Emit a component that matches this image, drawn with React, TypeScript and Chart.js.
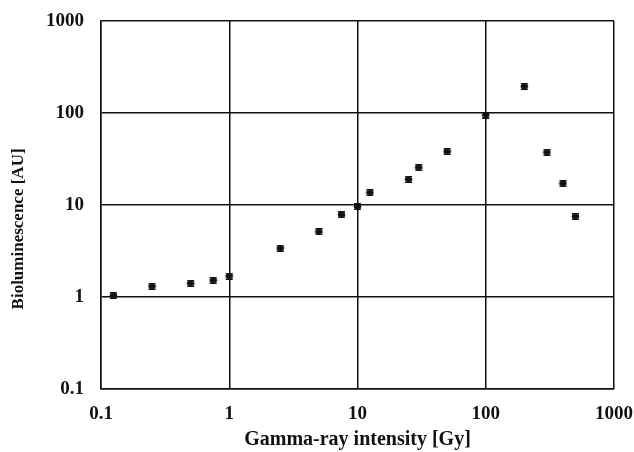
import React, { useEffect, useRef } from "react";
import Chart from "chart.js/auto";

const X_DOSES = [0.125, 0.25, 0.5, 0.75, 1, 2.5, 5, 7.5, 10, 12.5, 25, 30, 50, 100, 200, 300, 400, 500];
const Y_BIOLUM = [1.04, 1.31, 1.4, 1.51, 1.69, 3.4, 5.1, 7.8, 9.6, 13.6, 19, 25.5, 38, 95, 195, 37.4, 17.1, 7.5];
const X_TICKS = [0.1, 1, 10, 100, 1000];
const Y_TICKS = [0.1, 1, 10, 100, 1000];
const X_TITLE = "Gamma-ray intensity [Gy]";
const Y_TITLE = "Bioluminescence [AU]";

const FONT = "'Liberation Serif', 'Times New Roman', serif";
const INK = "#111";

function makeMarker(): HTMLCanvasElement {
  const c = document.createElement("canvas");
  c.width = 9;
  c.height = 7;
  const g = c.getContext("2d")!;
  g.fillStyle = INK;
  g.fillRect(1, 0, 7, 1.5);
  g.fillRect(1, 5.5, 7, 1.5);
  g.beginPath();
  g.ellipse(4.5, 3.5, 3.8, 2.4, 0, 0, Math.PI * 2);
  g.fill();
  return c;
}

const yTitlePlugin = {
  id: "yTitle",
  afterDraw(chart: any) {
    const { ctx, chartArea } = chart;
    ctx.save();
    ctx.fillStyle = INK;
    ctx.font = `bold 17px ${FONT}`;
    ctx.textAlign = "center";
    ctx.textBaseline = "middle";
    ctx.translate(19, chartArea.top + (chartArea.bottom - chartArea.top) * 0.565);
    ctx.rotate(-Math.PI / 2);
    ctx.fillText(Y_TITLE, 0, 0);
    ctx.restore();
  },
};

export default function App() {
  const ref = useRef<HTMLCanvasElement>(null);
  useEffect(() => {
    document.body.style.margin = "0";
    const marker = makeMarker();
    const data = X_DOSES.map((x, i) => ({ x, y: Y_BIOLUM[i] }));
    const chart = new Chart(ref.current!, {
      type: "scatter",
      data: {
        datasets: [
          {
            data,
            pointStyle: marker as any,
            pointRadius: 4,
            pointHoverRadius: 4,
            backgroundColor: INK,
            borderColor: INK,
          },
        ],
      },
      options: {
        animation: false,
        responsive: false,
        events: [],
        layout: { padding: { top: 21, right: 20, left: 0, bottom: 0 } },
        plugins: { legend: { display: false }, tooltip: { enabled: false } },
        scales: {
          x: {
            type: "logarithmic",
            min: 0.1,
            max: 1000,
            afterBuildTicks: (s: any) => {
              s.ticks = X_TICKS.map((v) => ({ value: v }));
            },
            afterFit: (s: any) => {
              s.height = 63;
              s.paddingLeft = 0;
              s.paddingRight = 0;
            },
            ticks: {
              autoSkip: false,
              maxRotation: 0,
              padding: 14,
              color: INK,
              font: { family: FONT, size: 19, weight: "bold" },
              callback: (v: any) => String(v),
            },
            grid: { color: INK, lineWidth: 1.5, drawTicks: false },
            border: { color: INK, width: 1.5 },
            title: {
              display: true,
              text: X_TITLE,
              color: INK,
              font: { family: FONT, size: 20, weight: "bold" },
              padding: { top: 0, bottom: 0 },
            },
          },
          y: {
            type: "logarithmic",
            min: 0.1,
            max: 1000,
            afterBuildTicks: (s: any) => {
              s.ticks = Y_TICKS.map((v) => ({ value: v }));
            },
            afterFit: (s: any) => {
              s.width = 101;
              s.paddingTop = 0;
              s.paddingBottom = 0;
            },
            ticks: {
              autoSkip: false,
              padding: 17,
              color: INK,
              font: { family: FONT, size: 19, weight: "bold" },
              callback: (v: any) => String(v),
            },
            grid: { color: INK, lineWidth: 1.5, drawTicks: false },
            border: { color: INK, width: 1.5 },
          },
        },
      },
      plugins: [yTitlePlugin],
    });
    return () => chart.destroy();
  }, []);
  return (
    <div style={{ position: "fixed", left: 0, top: 0, width: 634, height: 452, background: "#fff" }}>
      <canvas ref={ref} width={634} height={452} />
    </div>
  );
}
